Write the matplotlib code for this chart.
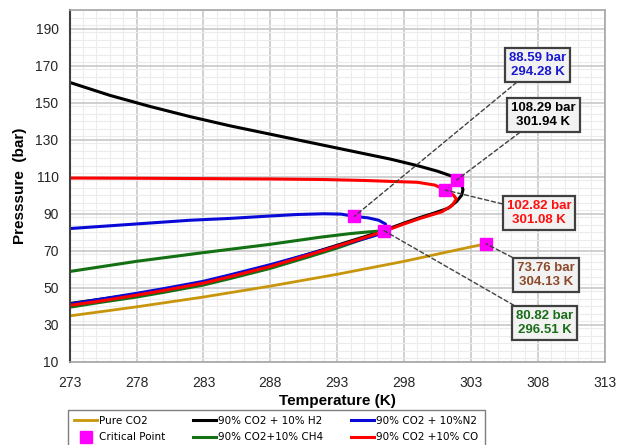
import matplotlib.pyplot as plt
from matplotlib.ticker import MultipleLocator

plt.rcParams['font.family'] = ['Liberation Sans', 'DejaVu Sans']

# pure CO2 saturation line
t_co2 = [273, 278, 283, 288, 293, 298, 303, 304.13]
p_co2 = [34.8, 39.7, 45.0, 50.9, 57.3, 64.3, 72.1, 73.76]

# 90% CO2 + 10% H2 (dew branch then bubble branch)
t_h2 = [273, 276, 279, 282, 285, 288, 291, 294, 297, 299, 300.5, 301.5, 301.94,
        302.3, 302.4, 302.3, 301.9, 301.3, 300.3, 299.2, 298, 296.5, 295, 293,
        291, 288, 285, 283, 280, 278, 275, 273]
p_h2 = [161, 154, 148, 142.5, 137.5, 133, 128.5, 124, 119.5, 116, 113, 110.5, 108.29,
        106, 103, 100, 96.5, 93, 90.5, 88, 85, 81, 77.5, 73,
        68.5, 62, 56.5, 53, 49, 46.5, 43.5, 41.5]

# 90% CO2 + 10% N2
t_n2 = [273, 276, 279, 282, 285, 288, 290, 292, 293.3, 294.28, 295.3, 296.1, 296.6,
        296.7, 296.4, 295.5, 294, 292, 290, 288, 285, 283, 280, 278, 275, 273]
p_n2 = [82, 83.5, 85, 86.5, 87.5, 88.8, 89.6, 90, 89.8, 88.59, 87.8, 86.5, 84.5,
        82, 79.5, 77.5, 74.5, 70.5, 66.5, 62.5, 57, 53.5, 49.5, 47, 43.5, 41.2]

# 90% CO2 + 10% CH4
t_ch4 = [273, 278, 283, 288, 291.7, 294, 295.5, 296.51,
         296, 295, 293, 291, 288, 285, 283, 280, 278, 275, 273]
p_ch4 = [58.8, 64.3, 69, 73.5, 77.3, 79.3, 80.3, 80.82,
         79, 76.5, 71.5, 67, 60.5, 55, 51.5, 47.5, 45, 41.8, 39.5]

# 90% CO2 + 10% CO
t_co = [273, 278, 283, 288, 292, 295, 297, 299, 300.3, 301.08, 301.7,
        301.9, 301.6, 300.8, 299.2, 298, 296.5, 295, 293, 291, 288, 285, 283,
        280, 278, 275, 273]
p_co = [109.3, 109.2, 109, 108.8, 108.5, 108, 107.5, 107, 105.5, 102.82, 100,
        98, 94.5, 91, 87.5, 84.5, 80.5, 77, 72.5, 68, 61.5, 56, 52.5,
        48.5, 46, 42.5, 40.5]

# critical points
crit_t = [304.13, 301.94, 294.28, 296.51, 301.08]
crit_p = [73.76, 108.29, 88.59, 80.82, 102.82]
crit_txt = ["73.76 bar\n304.13 K", "108.29 bar\n301.94 K", "88.59 bar\n294.28 K",
            "80.82 bar\n296.51 K", "102.82 bar\n301.08 K"]
box_t = [308.6, 308.4, 308.0, 308.5, 308.1]
box_p = [57, 143.5, 170.5, 31, 90.5]
txt_col = ['#8B4A2B', 'black', '#1a1ad0', '#1a6e1a', '#ff1010']

fig = plt.figure(figsize=(6.28, 4.45), dpi=100)
ax = fig.add_axes([0.111, 0.187, 0.852, 0.79])

ax.plot(t_co2, p_co2, color='#c8960c', lw=2, label='Pure CO2')
ax.plot(t_h2, p_h2, color='black', lw=2.2, label='90% CO2 + 10% H2')
ax.plot(t_ch4, p_ch4, color='#137013', lw=2.2, label='90% CO2+10% CH4')
ax.plot(t_n2, p_n2, color='#0a0ad8', lw=2.2, label='90% CO2 + 10%N2')
ax.plot(t_co, p_co, color='#ff0000', lw=2.2, label='90% CO2 +10% CO')
ax.plot(crit_t, crit_p, 's', color='#ff00ff', ms=9, ls='none', label='Critical Point', zorder=5)

for t, p, s, bt, bp, c in zip(crit_t, crit_p, crit_txt, box_t, box_p, txt_col):
    ax.annotate(s, xy=(t, p), xytext=(bt, bp), ha='center', va='center',
                fontsize=9.5, fontweight='bold', color=c, linespacing=1.2,
                bbox=dict(boxstyle='square,pad=0.3', fc='#f2f2f2', ec='#404040', lw=1.6),
                arrowprops=dict(arrowstyle='-', ls=(0, (3, 2)), color='#404040', lw=1,
                                shrinkA=0, shrinkB=0), zorder=6)

ax.set_xlim(273, 313)
ax.set_ylim(10, 200)
ax.set_xticks(range(273, 314, 5))
ax.set_yticks(range(10, 191, 20))
ax.xaxis.set_minor_locator(MultipleLocator(1))
ax.yaxis.set_minor_locator(MultipleLocator(4))
ax.grid(which='major', color='#c8c8c8', lw=1.2)
ax.grid(which='minor', color='#ececec', lw=0.8)
ax.set_axisbelow(True)
ax.tick_params(which='both', length=0, labelsize=10, colors='#262626')
ax.tick_params(axis='x', pad=10)
ax.tick_params(axis='y', pad=8)

for s in ['top', 'right', 'bottom']:
    ax.spines[s].set_color('#a6a6a6')
    ax.spines[s].set_linewidth(1.2)
ax.spines['left'].set_color('#404040')
ax.spines['left'].set_linestyle((0, (1, 1)))
ax.spines['left'].set_linewidth(1.5)

ax.set_xlabel('Temperature (K)', fontsize=11, fontweight='bold', labelpad=3)
ax.set_ylabel('Presssure  (bar)', fontsize=11, fontweight='bold', labelpad=6)

h, l = ax.get_legend_handles_labels()
order = [0, 5, 1, 2, 3, 4]
fig.legend([h[i] for i in order], [l[i] for i in order], ncol=3,
           loc='upper left', bbox_to_anchor=(0.108, -0.02, 0.664, 0.099), mode='expand',
           borderaxespad=0,
           prop={'family': ['Liberation Sans Narrow', 'DejaVu Sans'], 'size': 7.5},
           fancybox=False, edgecolor='#7f7f7f', handlelength=2.2, handletextpad=0.2,
           labelspacing=0.6, borderpad=0.6, framealpha=1)

fig.savefig('out.png', dpi=100)
